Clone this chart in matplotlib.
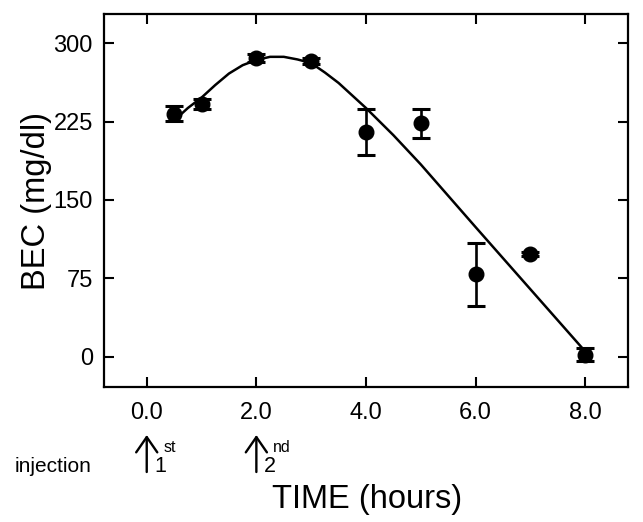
import matplotlib.pyplot as plt

plt.rcParams['font.family'] = ['Liberation Sans', 'DejaVu Sans']

# datos medidos
time_h = [0.5, 1.0, 2.0, 3.0, 4.0, 5.0, 6.0, 7.0, 8.0]
bec = [232.5, 242, 286, 283, 215, 223.5, 79, 98, 2]
bec_err = [7, 5, 4, 3, 22, 14, 30, 2, 6]

# curva ajustada
fit_x = [0.5, 0.75, 1.0, 1.25, 1.5, 1.75, 2.0, 2.25, 2.5, 2.75, 3.0, 3.25,
         3.5, 3.75, 4.0, 4.25, 4.5, 5.0, 6.0, 7.0, 8.0]
fit_y = [226, 238, 248, 260, 271, 279, 284, 287, 287, 284.5, 281, 272,
         262, 250, 238, 225, 212, 184, 124, 64.5, 5]

xticks = [0, 2, 4, 6, 8]
yticks = [0, 75, 150, 225, 300]
injections = [(0.0, '1', 'st'), (2.0, '2', 'nd')]

fig = plt.figure(figsize=(6.43, 5.22), dpi=100)
ax = fig.add_axes([0.1617, 0.2586, 0.815, 0.7146])

ax.plot(fit_x, fit_y, color='black', lw=1.8)
ax.errorbar(time_h, bec, yerr=bec_err, fmt='o', color='black', ms=10.5,
            elinewidth=1.9, capsize=6.5, capthick=2.2)

ax.set_xlim(-0.78, 8.78)
ax.set_ylim(-29, 328)
ax.set_xticks(xticks)
ax.set_xticklabels([f'{t:.1f}' for t in xticks])
ax.set_yticks(yticks)
ax.tick_params(direction='in', length=7, width=1.5, labelsize=17,
               top=True, right=True)
ax.tick_params(axis='x', pad=11)
ax.tick_params(axis='y', pad=8)
for s in ax.spines.values():
    s.set_linewidth(1.6)

ax.set_ylabel('BEC (mg/dl)', fontsize=23.5)
ax.yaxis.set_label_coords(-0.1, 0.5)
fig.text(366.7 / 643, 14 / 522, 'TIME (hours)', fontsize=23.5,
         ha='center', va='baseline')

# flechas de inyección
fig.text(15 / 643, 50.3 / 522, 'injection', fontsize=15, va='baseline')
for x, num, sup in injections:
    ax.annotate('', xy=(x, 87), xytext=(x, 50), xycoords=('data', 'figure pixels'),
                textcoords=('data', 'figure pixels'),
                arrowprops=dict(arrowstyle='->,head_length=0.55,head_width=0.38',
                                lw=1.7, color='black', mutation_scale=20,
                                shrinkA=0, shrinkB=0))
    ax.annotate(num, xy=(x, 50.3), xycoords=('data', 'figure pixels'),
                xytext=(8, 0), textcoords='offset pixels', fontsize=15.5,
                ha='left', va='baseline', annotation_clip=False)
    ax.annotate(sup, xy=(x, 70), xycoords=('data', 'figure pixels'),
                xytext=(17, 0), textcoords='offset pixels', fontsize=11.5,
                ha='left', va='baseline', annotation_clip=False)

plt.savefig('out.png', dpi=100)
